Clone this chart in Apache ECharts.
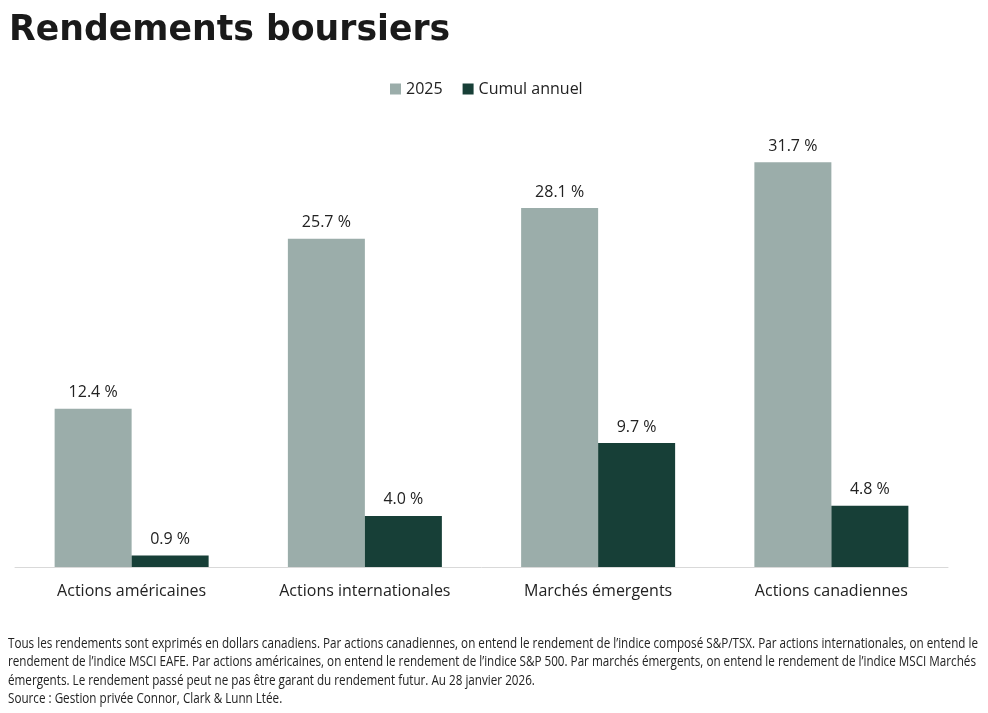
<!DOCTYPE html>
<html><head><meta charset="utf-8">
<script src="https://cdn.jsdelivr.net/npm/echarts@6/dist/echarts.min.js"></script>
<style>html,body{margin:0;padding:0;background:#fff}#c{width:988px;height:713px}</style>
</head><body><div id="c"></div>
<script>
const categories = ['Actions américaines', 'Actions internationales', 'Marchés émergents', 'Actions canadiennes'];
const seriesNames = ['2025', 'Cumul annuel'];
const values2025 = [12.4, 25.7, 28.1, 31.7];
const valuesYTD = [0.9, 4.0, 9.7, 4.8];
const titleText = 'Rendements boursiers';
const footnoteLines = [
  'Tous les rendements sont exprimés en dollars canadiens. Par actions canadiennes, on entend le rendement de l’indice composé S&P/TSX. Par actions internationales, on entend le',
  'rendement de l’indice MSCI EAFE. Par actions américaines, on entend le rendement de l’indice S&P 500. Par marchés émergents, on entend le rendement de l’indice MSCI Marchés',
  'émergents. Le rendement passé peut ne pas être garant du rendement futur. Au 28 janvier 2026.',
  'Source : Gestion privée Connor, Clark & Lunn Ltée.'
];

const font = '"Open Sans", "Noto Sans", sans-serif';
const noteFont = '"Open Sans", sans-serif';
const noteSize = 14;
// horizontal condensing factor so the first footnote line spans the same width as in the reference
const ctx = document.createElement('canvas').getContext('2d');
ctx.font = noteSize + 'px ' + noteFont;
const noteScale = 970 / ctx.measureText(footnoteLines[0]).width;

const chart = echarts.init(document.getElementById('c'));
const labelCfg = {
  show: true, position: 'top', distance: 8, color: '#222', fontSize: 16, fontFamily: font,
  formatter: p => p.value.toFixed(1) + ' %'
};
chart.setOption({
  animation: false,
  backgroundColor: '#fff',
  title: {
    text: titleText, left: 4, top: 8,
    textStyle: { fontFamily: '"DejaVu Sans", sans-serif', fontWeight: 'bold', fontSize: 34.7, color: '#1a1a1a' }
  },
  legend: {
    data: seriesNames, top: 76, left: 385, itemWidth: 11, itemHeight: 11, itemGap: 20,
    icon: 'rect',
    textStyle: { fontFamily: font, fontSize: 16, color: '#222' }
  },
  grid: { left: 15, right: 40, top: 120, bottom: 146 },
  xAxis: {
    type: 'category', data: categories,
    axisLine: { lineStyle: { color: '#d9d9d9', width: 1 } },
    axisTick: { show: false },
    axisLabel: { margin: 16, fontSize: 16, fontFamily: font, color: '#222' }
  },
  yAxis: { type: 'value', min: 0, max: 35, show: false, splitLine: { show: false } },
  series: [
    { name: seriesNames[0], type: 'bar', data: values2025, barWidth: 77, barGap: '0%', itemStyle: { color: '#9badaa' }, label: labelCfg },
    { name: seriesNames[1], type: 'bar', data: valuesYTD, barWidth: 77, barGap: '0%', itemStyle: { color: '#173f37' }, label: labelCfg }
  ],
  graphic: footnoteLines.map((t, i) => ({
    type: 'text', x: 8, y: 644 + i * 18.3, scaleX: noteScale, scaleY: 1,
    style: { text: t, x: 0, y: 0, verticalAlign: 'middle', fontFamily: noteFont, fontSize: noteSize, fill: '#222' }
  }))
});
</script></body></html>
